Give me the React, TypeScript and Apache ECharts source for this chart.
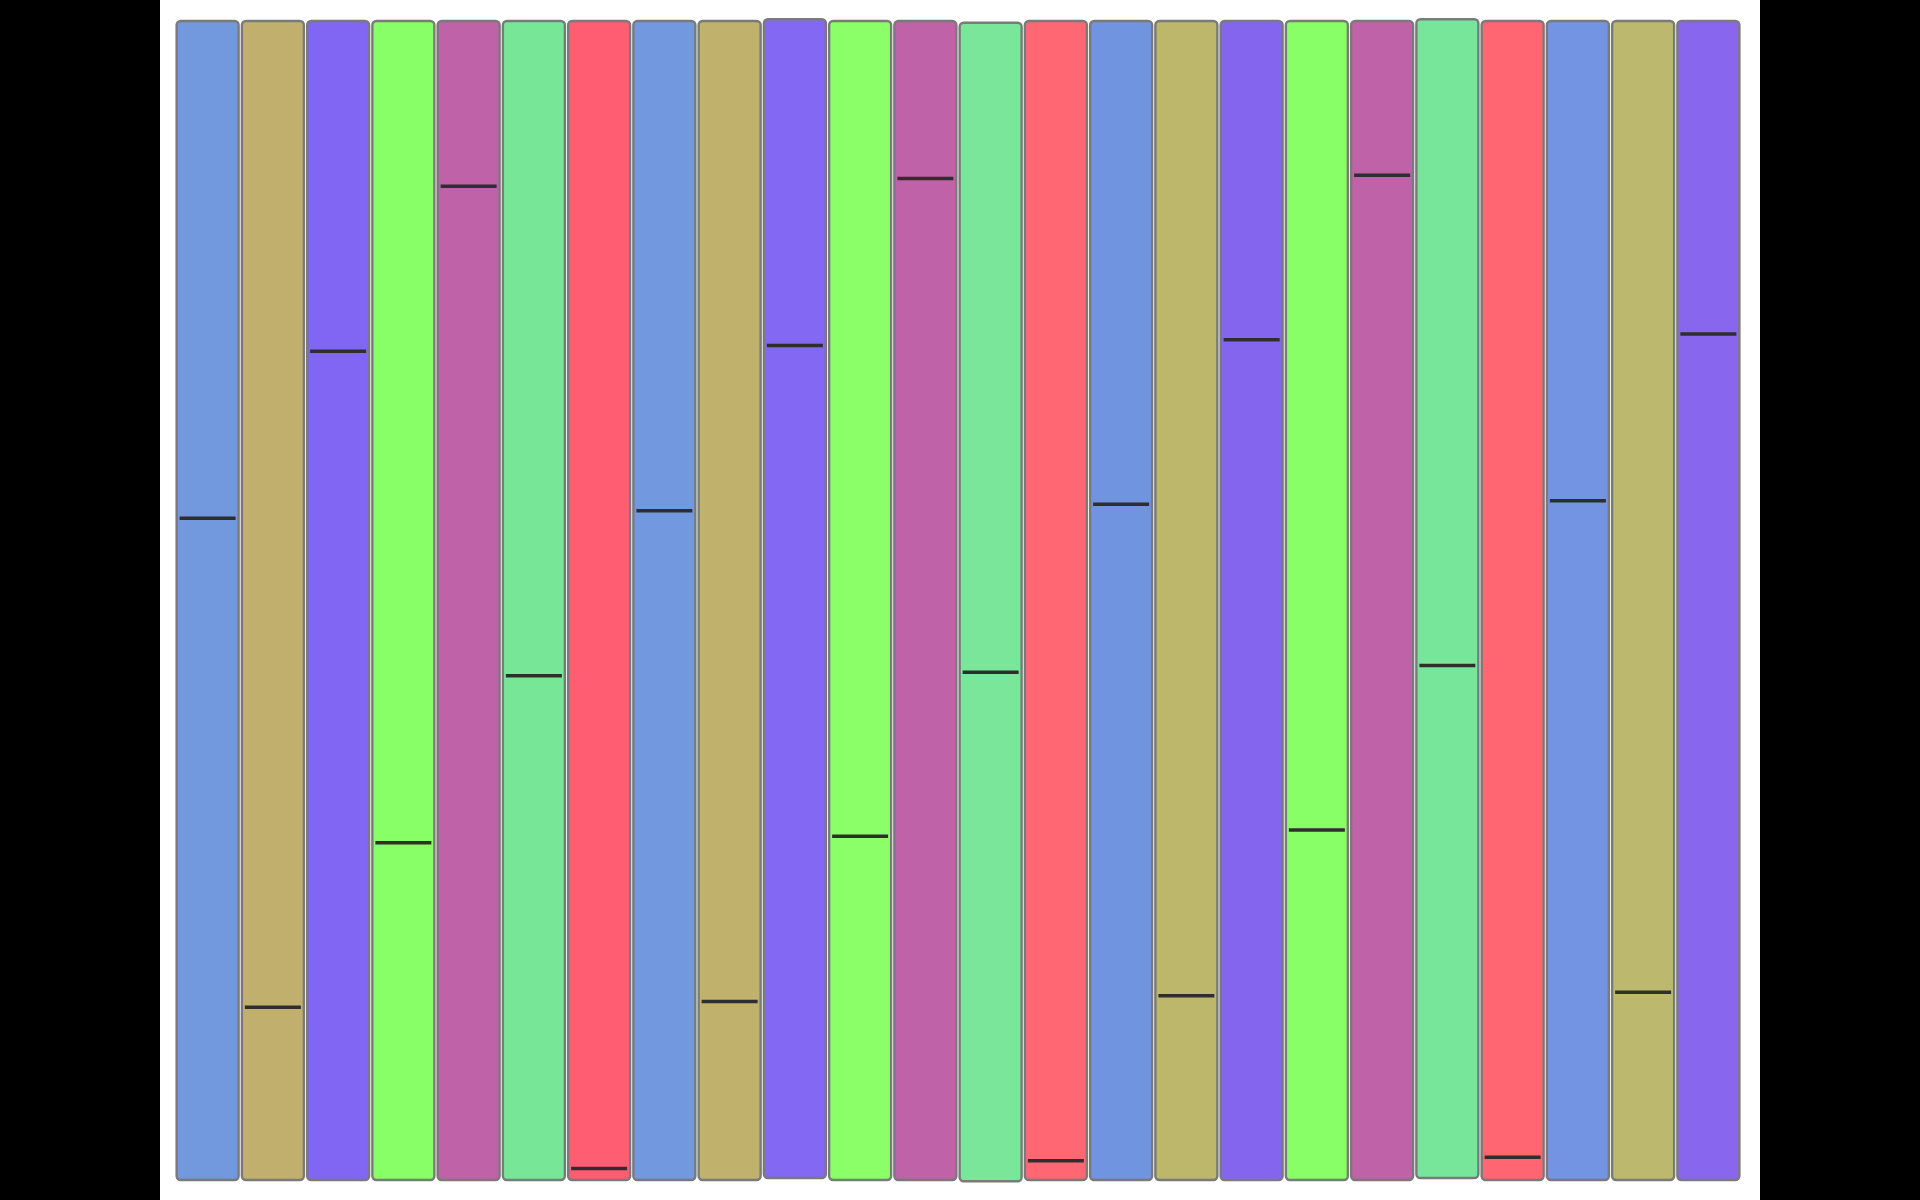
import React, { useEffect, useRef } from "react";
import * as echarts from "echarts";

const categories = [
  "1", "2", "3", "4", "5", "6", "7", "8", "9", "10", "11", "12",
  "13", "14", "15", "16", "17", "18", "19", "20", "21", "22", "23", "24",
];
const lowValues = [
  0, 0, 0, 0, 0, 0, 0, 0, 0, 0.17, 0, 0,
  -0.11, 0, 0, 0, 0, 0, 0, 0.17, 0, 0, 0, 0,
];
const highValues = [
  100, 100, 100, 100, 100, 100, 100, 100, 100, 100.15, 100, 100,
  99.85, 100, 100, 100, 100, 100, 100, 100.15, 100, 100, 100, 100,
];
const medianValues = [
  57.1, 14.9, 71.5, 29.1, 85.75, 43.5, 1.0, 57.75, 15.4, 72.0, 29.65, 86.4,
  43.8, 1.66, 58.3, 15.9, 72.5, 30.2, 86.7, 44.4, 1.97, 58.6, 16.2, 73.0,
];
const palette = [
  "#7299dd", "#c1b06d", "#8066f2", "#88ff66", "#c062a8", "#78e697", "#ff5e72",
  "#7299e0", "#c0b16c", "#8268f2", "#8aff68", "#c062a8", "#7ae699", "#ff6872",
  "#7094e0", "#bdb76b", "#8466ee", "#88ff66", "#c062a8", "#78e69a", "#ff6672",
  "#7294e2", "#bcb86e", "#8866ee",
];

export default function App() {
  const ref = useRef<HTMLDivElement>(null);
  useEffect(() => {
    document.body.style.margin = "0";
    document.body.style.background = "#000";
    if (!ref.current) return;
    const chart = echarts.init(ref.current, undefined, { renderer: "svg" });
    const data = categories.map((c, i) => [i, lowValues[i], highValues[i], medianValues[i]]);
    chart.setOption({
      animation: false,
      backgroundColor: "#ffffff",
      grid: { left: 15, right: 19, top: 21, bottom: 20 },
      xAxis: { type: "category", data: categories, show: false },
      yAxis: { type: "value", min: 0, max: 100, show: false },
      series: [
        {
          type: "custom",
          data,
          encode: { x: 0, y: [1, 2, 3] },
          renderItem: (params: any, api: any) => {
            const idx = params.dataIndex;
            const x = api.value(0);
            const pLow = api.coord([x, api.value(1)]);
            const pHigh = api.coord([x, api.value(2)]);
            const pMed = api.coord([x, api.value(3)]);
            const bw = api.size([1, 0])[0] * 0.95;
            return {
              type: "group",
              children: [
                {
                  type: "rect",
                  shape: {
                    x: pLow[0] - bw / 2,
                    y: pHigh[1],
                    width: bw,
                    height: pLow[1] - pHigh[1],
                    r: 4,
                  },
                  style: { fill: palette[idx], stroke: "#7a7a7a", lineWidth: 2.4 },
                },
                {
                  type: "line",
                  shape: {
                    x1: pLow[0] - bw / 2 + 3,
                    y1: pMed[1],
                    x2: pLow[0] + bw / 2 - 3,
                    y2: pMed[1],
                  },
                  style: { stroke: "#2e2e2e", lineWidth: 3.5 },
                },
              ],
            };
          },
        },
      ],
    });
    return () => chart.dispose();
  }, []);
  return (
    <div style={{ width: 1920, height: 1200, background: "#000", position: "relative" }}>
      <div
        ref={ref}
        style={{ position: "absolute", left: 160, top: 0, width: 1600, height: 1200 }}
      />
    </div>
  );
}
